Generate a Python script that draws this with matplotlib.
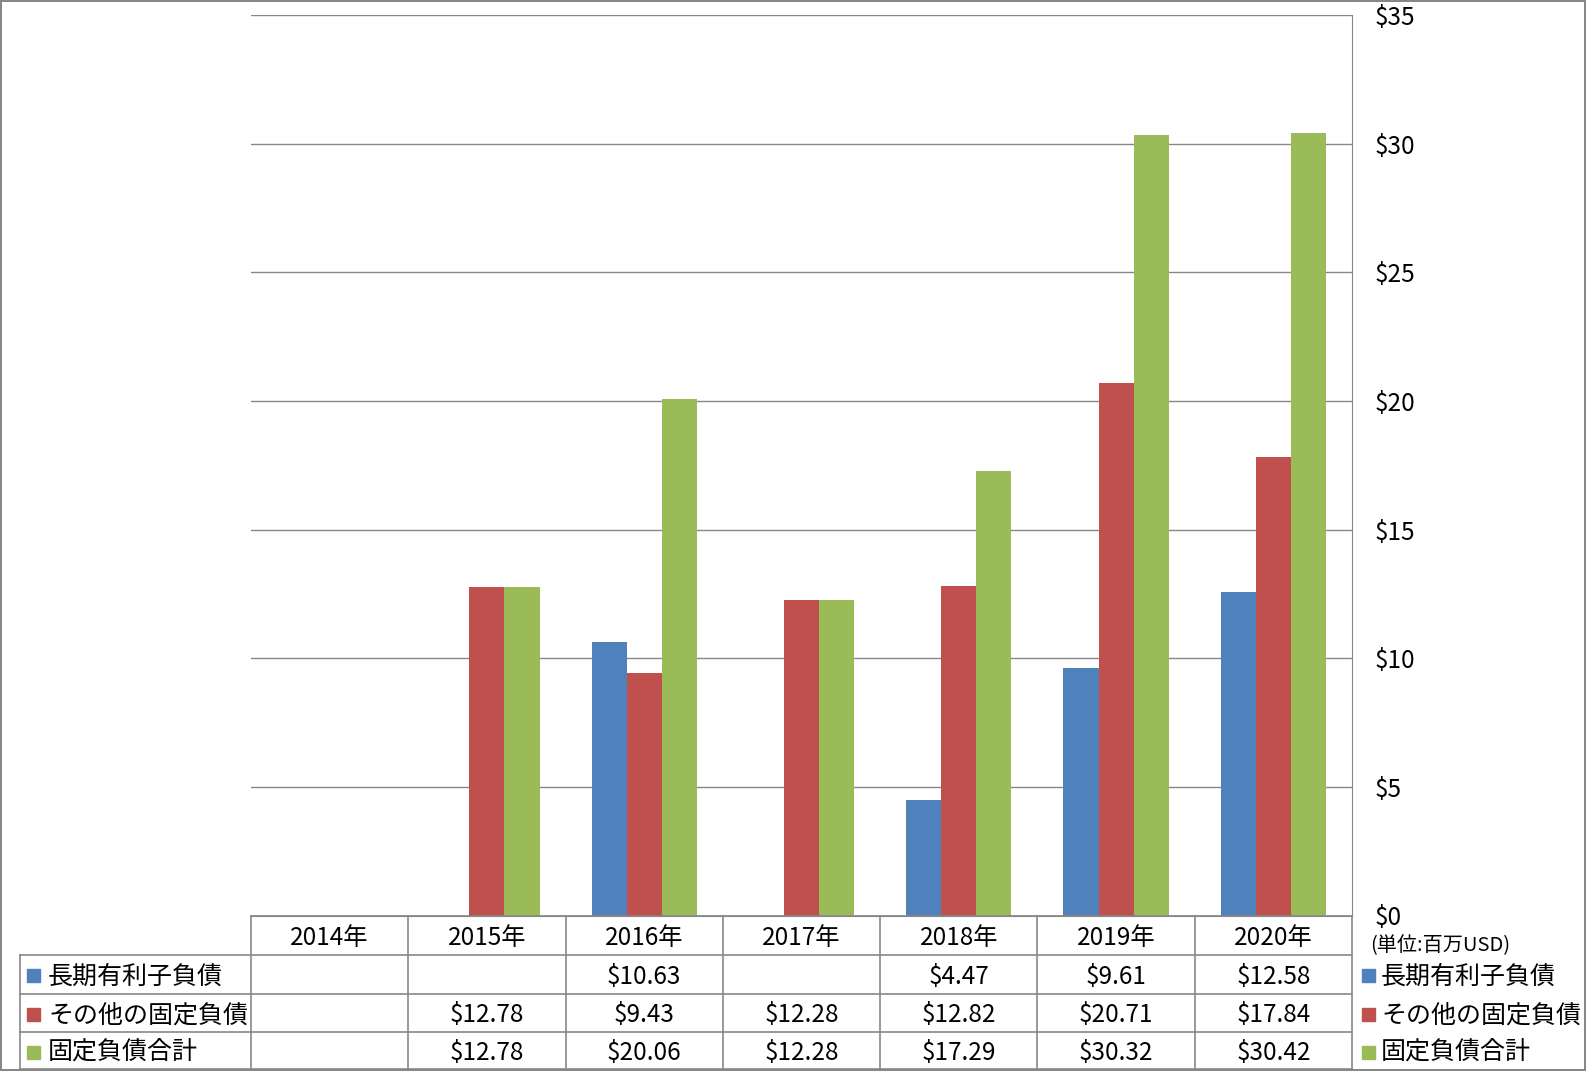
import numpy as np
import matplotlib
matplotlib.use('Agg')
import matplotlib.pyplot as plt
from matplotlib.transforms import blended_transform_factory
from matplotlib.patches import Rectangle
from matplotlib.lines import Line2D

plt.rcParams['font.family'] = ['Noto Sans CJK JP', 'DejaVu Sans']

# ----------------------------------------------------------------------
#   Data
# ----------------------------------------------------------------------
years        = ['2014年', '2015年', '2016年', '2017年', '2018年', '2019年', '2020年']
series_names = ['長期有利子負債', 'その他の固定負債', '固定負債合計']
long_debt    = [np.nan, np.nan, 10.63, np.nan, 4.47, 9.61, 12.58]
other_debt   = [np.nan, 12.78, 9.43, 12.28, 12.82, 20.71, 17.84]
total_debt   = [np.nan, 12.78, 20.06, 12.28, 17.29, 30.32, 30.42]
colors       = ['#4F81BD', '#C0504D', '#9BBB59']
y_ticks      = [0, 5, 10, 15, 20, 25, 30, 35]
unit_label   = '(単位:百万USD)'

W, H = 1586, 1071
fs = 17.5
fs_name = 18
grid_color = '#878787'


def fy(px):
    # pixel from top -> figure fraction
    return 1 - px / H


def fx(px):
    return px / W


def main():
    fig = plt.figure(figsize=(W / 100, H / 100), dpi=100)
    fig.patch.set_edgecolor(grid_color)
    fig.patch.set_linewidth(1.5)

    ax = fig.add_axes([fx(251), fy(915.5), fx(1352) - fx(251), fy(15) - fy(915.5)])

    data = [long_debt, other_debt, total_debt]
    x = np.arange(len(years))
    width = 0.223
    for k, (vals, col) in enumerate(zip(data, colors)):
        vals = np.array(vals, dtype=float)
        mask = ~np.isnan(vals)
        ax.bar(x[mask] + (k - 1) * width, vals[mask], width=width, color=col, zorder=3)

    ax.set_xlim(-0.5, len(years) - 0.5)
    ax.set_ylim(0, 35)
    ax.set_yticks(y_ticks)
    ax.set_yticklabels([f'${v}' for v in y_ticks], fontsize=fs)
    ax.yaxis.tick_right()
    ax.tick_params(axis='y', length=0, pad=16)
    for lbl in ax.get_yticklabels():
        lbl.set_horizontalalignment('left')
    ax.set_xticks([])
    ax.grid(axis='y', color=grid_color, linewidth=1, zorder=0)
    for s in ['top', 'left']:
        ax.spines[s].set_visible(False)
    ax.spines['right'].set_color(grid_color)
    ax.spines['bottom'].set_color(grid_color)

    # unit label
    fig.text(fx(1370), fy(946), unit_label, fontsize=14.5, ha='left', va='center')

    # ------------------------------------------------------------------
    #   Data table
    # ------------------------------------------------------------------
    tr = blended_transform_factory(ax.transData, fig.transFigure)
    row_edges = [915.5, 955, 993.5, 1032, 1069]
    lc = dict(color=grid_color, linewidth=1.2)
    dy = 2.5  # text nudge down [px]

    # horizontal lines
    fig.add_artist(Line2D([fx(251), fx(1352)], [fy(row_edges[0])] * 2, **lc))
    for e in row_edges[1:]:
        fig.add_artist(Line2D([fx(20), fx(1352)], [fy(e)] * 2, **lc))
    # vertical lines
    for b in np.arange(len(years) + 1) - 0.5:
        fig.add_artist(Line2D([b, b], [fy(row_edges[0]), fy(row_edges[-1])],
                              transform=tr, **lc))
    fig.add_artist(Line2D([fx(20), fx(20)], [fy(row_edges[1]), fy(row_edges[-1])], **lc))

    header_y = fy((row_edges[0] + row_edges[1]) / 2 + dy)
    for i, yr in enumerate(years):
        fig.text(i, header_y, yr, transform=tr, fontsize=fs, ha='center', va='center')

    for r, (name, vals, col) in enumerate(zip(series_names, data, colors)):
        yc_px = (row_edges[r + 1] + row_edges[r + 2]) / 2
        yc = fy(yc_px + dy)
        for i, v in enumerate(vals):
            if not np.isnan(v):
                fig.text(i, yc, f'${v:.2f}', transform=tr, fontsize=fs,
                         ha='center', va='center')
        # row label with key
        ys = fy(yc_px + 1.5)
        fig.add_artist(Rectangle((fx(27), ys - 6.5 / H), 12.5 / W, 13 / H,
                                 transform=fig.transFigure, color=col))
        fig.text(fx(48), yc, name, fontsize=fs_name, ha='left', va='center')
        # right-hand legend
        fig.add_artist(Rectangle((fx(1362), ys - 6.5 / H), 12.5 / W, 13 / H,
                                 transform=fig.transFigure, color=col))
        fig.text(fx(1381), yc, name, fontsize=fs_name, ha='left', va='center')

    fig.savefig('out.png', dpi=100)


if __name__ == '__main__':
    main()
